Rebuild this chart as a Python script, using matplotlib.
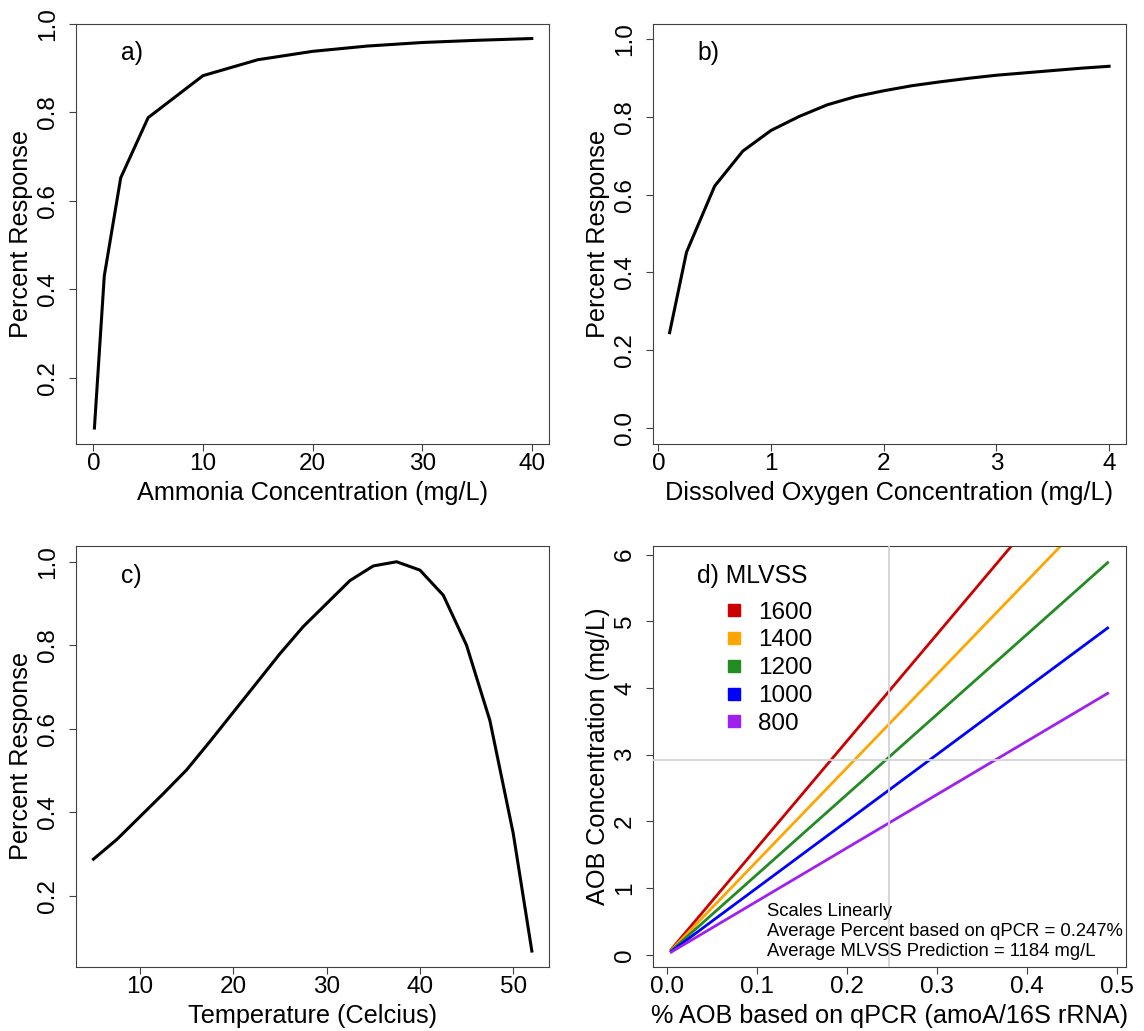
import matplotlib
matplotlib.use("Agg")
import matplotlib.pyplot as plt
from matplotlib.lines import Line2D

plt.rcParams['font.family'] = ['Liberation Sans', 'DejaVu Sans']

# a) ammonia response
nh3_conc = [0.1, 1, 2.5, 5, 10, 15, 20, 25, 30, 35, 40]
nh3_resp = [0.086, 0.43, 0.652, 0.788, 0.883, 0.919, 0.938, 0.950, 0.958, 0.963, 0.967]

# b) dissolved oxygen response
do_conc = [0.1, 0.25, 0.5, 0.75, 1.0, 1.25, 1.5, 1.75, 2.0, 2.25, 2.5, 2.75, 3.0, 3.25, 3.5, 3.75, 4.0]
do_resp = [0.245, 0.452, 0.622, 0.712, 0.765, 0.801, 0.831, 0.852, 0.867, 0.880, 0.890, 0.899,
           0.907, 0.913, 0.919, 0.925, 0.930]

# c) temperature response
temp_c = [5, 7.5, 10, 12.5, 15, 17.5, 20, 22.5, 25, 27.5, 30, 32.5, 35, 37.5, 40, 42.5, 45, 47.5, 50, 52]
temp_resp = [0.288, 0.335, 0.39, 0.445, 0.502, 0.57, 0.64, 0.71, 0.78, 0.845, 0.90, 0.955,
             0.99, 1.0, 0.98, 0.92, 0.80, 0.62, 0.35, 0.068]

# d) AOB concentration vs % AOB, per MLVSS
aob_pct = [0.005, 0.49]
mlvss_labels = ['1600', '1400', '1200', '1000', '800']
mlvss_colors = ['#CD0000', '#FFA500', '#228B22', '#0000FF', '#A020F0']
aob_conc = [
    [0.08, 7.84],
    [0.07, 6.86],
    [0.06, 5.88],
    [0.05, 4.90],
    [0.04, 3.92],
]
avg_pct = 0.247
avg_conc = 2.92

W, H = 1144, 1031
fig = plt.figure(figsize=(W / 100, H / 100), dpi=100)


def px_axes(left, top, right, bottom):
    return fig.add_axes([left / W, 1 - bottom / H, (right - left) / W, (bottom - top) / H])


def style(ax, xticks, xlabels, yticks, ylabels, xlab, ylab):
    for s in ax.spines.values():
        s.set_color('#404040')
        s.set_linewidth(0.8)
    ax.tick_params(direction='out', length=5, width=0.8, color='#404040', labelsize=17.5)
    ax.tick_params(axis='x', pad=2)
    ax.tick_params(axis='y', pad=7)
    ax.set_xticks(xticks)
    ax.set_xticklabels(xlabels)
    ax.set_yticks(yticks)
    ax.set_yticklabels(ylabels, rotation=90, va='center')
    ax.set_xlabel(xlab, fontsize=18.2, labelpad=4)
    ax.set_ylabel(ylab, fontsize=18.2, labelpad=3)


L1, R1, L2, R2 = 76, 549.3, 652.7, 1126
T1, B1, T2, B2 = 23.5, 443.5, 546.3, 966.5

# a
ax = px_axes(L1, T1, R1, B1)
ax.plot(nh3_conc, nh3_resp, color='black', lw=2.2)
ax.set_xlim(-1.58, 41.6)
ax.set_ylim(0.051, 1.001)
style(ax, [0, 10, 20, 30, 40], ['0', '10', '20', '30', '40'],
      [0.2, 0.4, 0.6, 0.8, 1.0], ['0.2', '0.4', '0.6', '0.8', '1.0'],
      'Ammonia Concentration (mg/L)', 'Percent Response')
ax.text(0.095, 0.929, 'a)', transform=ax.transAxes, va='center', fontsize=17.8)

# b
ax = px_axes(L2, T1, R2, B1)
ax.plot(do_conc, do_resp, color='black', lw=2.2)
ax.set_xlim(-0.05, 4.15)
ax.set_ylim(-0.04, 1.04)
style(ax, [0, 1, 2, 3, 4], ['0', '1', '2', '3', '4'],
      [0.0, 0.2, 0.4, 0.6, 0.8, 1.0], ['0.0', '0.2', '0.4', '0.6', '0.8', '1.0'],
      'Dissolved Oxygen Concentration (mg/L)', 'Percent Response')
ax.text(0.095, 0.929, 'b)', transform=ax.transAxes, va='center', fontsize=17.8)

# c
ax = px_axes(L1, T2, R1, B2)
ax.plot(temp_c, temp_resp, color='black', lw=2.2)
ax.set_xlim(3.13, 53.87)
ax.set_ylim(0.031, 1.037)
style(ax, [10, 20, 30, 40, 50], ['10', '20', '30', '40', '50'],
      [0.2, 0.4, 0.6, 0.8, 1.0], ['0.2', '0.4', '0.6', '0.8', '1.0'],
      'Temperature (Celcius)', 'Percent Response')
ax.text(0.095, 0.929, 'c)', transform=ax.transAxes, va='center', fontsize=17.8)

# d
ax = px_axes(L2, T2, R2, B2)
for conc, col in zip(aob_conc, mlvss_colors):
    ax.plot(aob_pct, conc, color=col, lw=2.0)
ax.axvline(avg_pct, color='#D3D3D3', lw=1.3, zorder=3)
ax.axhline(avg_conc, color='#D3D3D3', lw=1.3, zorder=3)
ax.set_xlim(-0.0156, 0.5104)
ax.set_ylim(-0.176, 6.125)
style(ax, [0.0, 0.1, 0.2, 0.3, 0.4, 0.5], ['0.0', '0.1', '0.2', '0.3', '0.4', '0.5'],
      [0, 1, 2, 3, 4, 5, 6], ['0', '1', '2', '3', '4', '5', '6'],
      '% AOB based on qPCR (amoA/16S rRNA)', 'AOB Concentration (mg/L)')
ax.text(0.0936, 0.930, 'd) MLVSS', transform=ax.transAxes, va='center', fontsize=17.8)
handles = [Line2D([], [], ls='none', marker='s', markersize=8.5, color=c) for c in mlvss_colors]
ax.legend(handles, mlvss_labels, loc='upper left',
          bbox_to_anchor=((722.2 - L2) / (R2 - L2), 1 - (601.5 - T2) / (B2 - T2)),
          frameon=False, fontsize=17.5, borderpad=0, borderaxespad=0,
          handlelength=1.0, handletextpad=0.46, labelspacing=0.24)
notes = ['Scales Linearly',
         'Average Percent based on qPCR = 0.247%',
         'Average MLVSS Prediction = 1184 mg/L']
for i, line in enumerate(notes):
    ax.text(0.242, 0.1317 - i * 0.0476, line, transform=ax.transAxes, va='center', fontsize=13.3)

fig.savefig('out.png', dpi=100)
